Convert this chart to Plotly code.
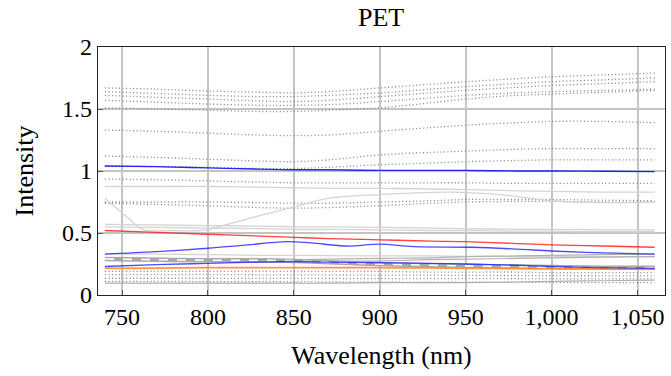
import plotly.graph_objects as go

# ---- data ----
X = [740, 770, 800, 830, 850, 870, 900, 930, 950, 980, 1000, 1030, 1060]

dotted_upper = {
    "d1": [1.67, 1.66, 1.645, 1.635, 1.63, 1.64, 1.67, 1.70, 1.72, 1.745, 1.76, 1.775, 1.79],
    "d2": [1.64, 1.625, 1.61, 1.60, 1.60, 1.61, 1.63, 1.66, 1.68, 1.705, 1.72, 1.735, 1.75],
    "d3": [1.61, 1.595, 1.58, 1.565, 1.56, 1.57, 1.60, 1.63, 1.65, 1.675, 1.69, 1.705, 1.72],
    "d4": [1.57, 1.555, 1.54, 1.53, 1.53, 1.535, 1.56, 1.59, 1.61, 1.63, 1.64, 1.65, 1.66],
    "d5": [1.51, 1.50, 1.49, 1.48, 1.48, 1.49, 1.51, 1.55, 1.58, 1.61, 1.62, 1.635, 1.65],
    "d6": [1.33, 1.32, 1.305, 1.29, 1.285, 1.29, 1.32, 1.35, 1.37, 1.39, 1.40, 1.40, 1.39],
    "d7": [1.12, 1.11, 1.095, 1.08, 1.075, 1.09, 1.13, 1.15, 1.16, 1.175, 1.18, 1.18, 1.18],
    "d8": [1.04, 1.035, 1.03, 1.02, 1.02, 1.03, 1.05, 1.065, 1.075, 1.085, 1.09, 1.09, 1.09],
    "d9": [0.935, 0.93, 0.92, 0.91, 0.905, 0.905, 0.905, 0.905, 0.905, 0.90, 0.90, 0.90, 0.90],
    "d10": [0.75, 0.75, 0.75, 0.745, 0.74, 0.74, 0.75, 0.76, 0.77, 0.77, 0.77, 0.765, 0.76],
    "d11": [0.74, 0.73, 0.72, 0.705, 0.70, 0.705, 0.72, 0.74, 0.75, 0.755, 0.755, 0.75, 0.75],
    "d12": [0.19, 0.19, 0.19, 0.19, 0.19, 0.19, 0.19, 0.185, 0.185, 0.185, 0.18, 0.18, 0.18],
    "d13": [0.165, 0.165, 0.165, 0.163, 0.163, 0.162, 0.16, 0.16, 0.158, 0.157, 0.156, 0.155, 0.155],
    "d14": [0.135, 0.135, 0.135, 0.134, 0.134, 0.133, 0.133, 0.132, 0.132, 0.131, 0.13, 0.13, 0.13],
    "d15": [0.11, 0.11, 0.108, 0.108, 0.107, 0.106, 0.105, 0.104, 0.103, 0.102, 0.101, 0.10, 0.10],
}

light_gray = {
    "g1": [0.875, 0.875, 0.875, 0.87, 0.865, 0.86, 0.86, 0.855, 0.85, 0.84, 0.835, 0.83, 0.83],
    "g3": [0.57, 0.565, 0.56, 0.555, 0.55, 0.55, 0.545, 0.54, 0.535, 0.53, 0.53, 0.525, 0.525],
    "g4": [0.55, 0.545, 0.54, 0.535, 0.53, 0.53, 0.525, 0.52, 0.52, 0.515, 0.515, 0.51, 0.51],
    "g5": [0.33, 0.33, 0.325, 0.32, 0.32, 0.318, 0.315, 0.315, 0.312, 0.31, 0.31, 0.31, 0.31],
}

X_g2 = [740, 752, 762, 780, 796, 810, 830, 850, 870, 900, 940, 970, 1000, 1030, 1060]
g2 = [0.78, 0.64, 0.53, 0.52, 0.52, 0.565, 0.64, 0.71, 0.78, 0.81, 0.83, 0.81, 0.76, 0.745, 0.75]

mid_gray = {
    "g6": [0.30, 0.295, 0.29, 0.285, 0.285, 0.29, 0.295, 0.30, 0.31, 0.315, 0.32, 0.325, 0.33],
    "g7": [0.28, 0.275, 0.27, 0.265, 0.265, 0.27, 0.275, 0.285, 0.29, 0.295, 0.30, 0.305, 0.31],
    "g8": [0.095, 0.095, 0.095, 0.095, 0.095, 0.095, 0.10, 0.10, 0.10, 0.105, 0.11, 0.115, 0.12],
}

dashed_band = [0.29, 0.285, 0.28, 0.28, 0.275, 0.265, 0.25, 0.24, 0.235, 0.23, 0.225, 0.22, 0.22]

red = [0.52, 0.505, 0.49, 0.475, 0.465, 0.455, 0.445, 0.435, 0.43, 0.415, 0.405, 0.395, 0.385]
blue_top = [1.04, 1.035, 1.025, 1.015, 1.01, 1.01, 1.005, 1.005, 1.005, 1.0, 1.0, 0.998, 0.995]
X_b2 = [740, 770, 800, 820, 846, 860, 881, 900, 920, 954, 980, 1000, 1030, 1060]
blue_mid = [0.33, 0.35, 0.377, 0.40, 0.43, 0.42, 0.395, 0.41, 0.39, 0.385, 0.37, 0.355, 0.34, 0.33]
blue_low = [0.23, 0.245, 0.255, 0.265, 0.27, 0.265, 0.26, 0.255, 0.25, 0.24, 0.23, 0.22, 0.215]
orange = [0.215, 0.217, 0.22, 0.22, 0.22, 0.22, 0.22, 0.218, 0.215, 0.213, 0.21, 0.21, 0.207]

xtick_vals = [750, 800, 850, 900, 950, 1000, 1050]
xtick_text = ["750", "800", "850", "900", "950", "1,000", "1,050"]
ytick_vals = [0, 0.5, 1, 1.5, 2]
ytick_text = ["0", "0.5", "1", "1.5", "2"]

# ---- figure ----
fig = go.Figure()

def add(x, y, color, width=1.2, dash="solid", opacity=1.0):
    fig.add_trace(go.Scatter(x=x, y=y, mode="lines", line=dict(color=color, width=width, dash=dash, shape="spline"),
                             opacity=opacity, showlegend=False, hoverinfo="skip"))

for k, v in dotted_upper.items():
    add(X, v, "#808080", 1.3, "1px,2.5px")
for k, v in light_gray.items():
    add(X, v, "#d4d4d4", 1.3)
add(X_g2, g2, "#d4d4d4", 1.3)
for k, v in mid_gray.items():
    add(X, v, "#b0b0b0", 1.2)
add(X, dashed_band, "#a8a8a8", 4.5)
add(X, dashed_band, "#ffffff", 1.6, "dash")
add(X, orange, "#ff8c26", 1.7, opacity=0.9)
add(X, red, "#ff2020", 1.3, opacity=0.85)
add(X, blue_top, "#1010ff", 1.4, opacity=0.9)
add(X_b2, blue_mid, "#2020ff", 1.3, opacity=0.8)
add(X, blue_low, "#2020ff", 1.3, opacity=0.8)

font = "Liberation Serif"
fig.update_layout(
    width=671, height=376,
    margin=dict(l=98, r=6, t=47, b=81),
    paper_bgcolor="white", plot_bgcolor="white",
    font=dict(family=font, size=24, color="black"),
    title=dict(text="PET", x=0.568, xanchor="center", y=0.955, yanchor="middle",
               font=dict(family=font, size=26)),
)
fig.update_xaxes(
    range=[736, 1066], tickvals=xtick_vals, ticktext=xtick_text,
    showgrid=True, gridcolor="#c4c4c4", gridwidth=1.5,
    showline=True, linecolor="#222", linewidth=1.2, mirror=True,
    ticks="inside", ticklen=5, tickcolor="#555", zeroline=False,
    title=dict(text="Wavelength (nm)", standoff=16, font=dict(size=26)),
    tickfont=dict(size=24),
)
fig.update_yaxes(
    range=[0, 2], tickvals=ytick_vals, ticktext=ytick_text,
    showgrid=True, gridcolor="#c4c4c4", gridwidth=1.5,
    showline=True, linecolor="#222", linewidth=1.2, mirror=True,
    ticks="inside", ticklen=5, tickcolor="#555", zeroline=False,
    title=dict(text="Intensity", standoff=20, font=dict(size=26)),
    tickfont=dict(size=24),
)

fig.write_html("out.html", config={"displayModeBar": False},
               post_script="document.body.style.margin='0';document.body.style.overflow='hidden';")
